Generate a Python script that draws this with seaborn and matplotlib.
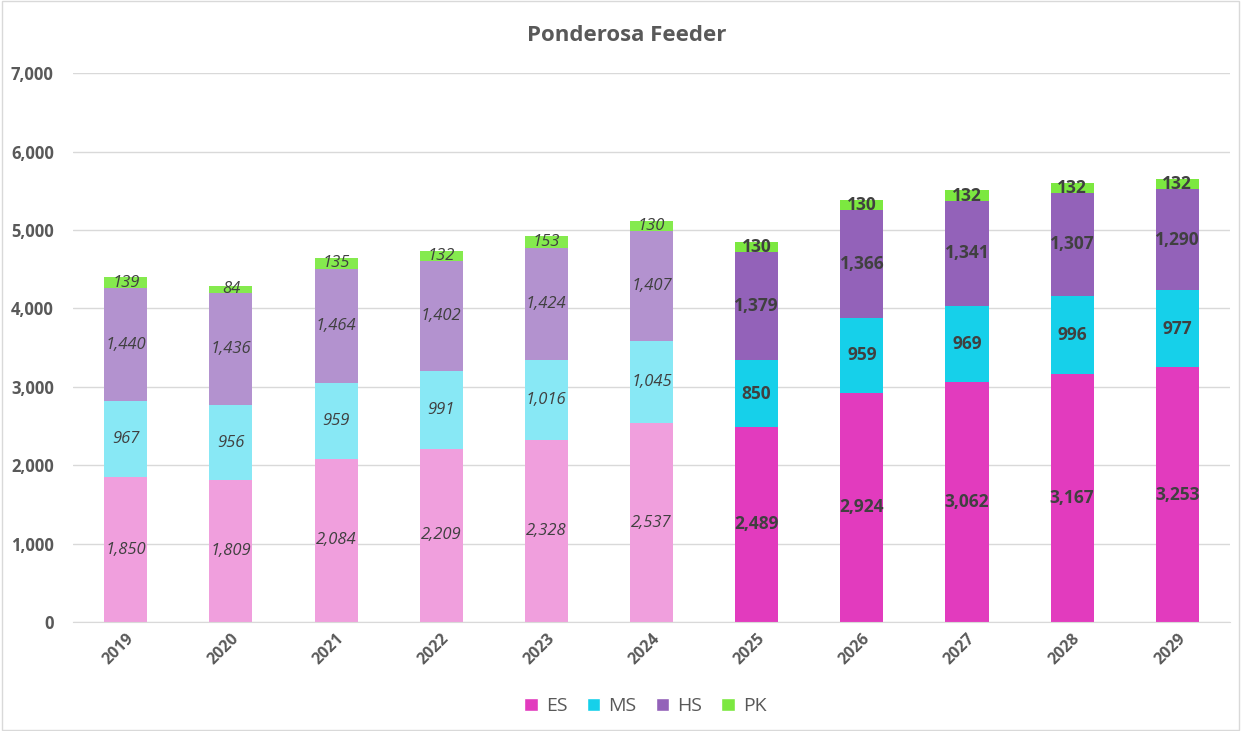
import numpy as np
import pandas as pd
import matplotlib.pyplot as plt
import matplotlib.colors as mcolors
from matplotlib.patches import Rectangle, Patch
from matplotlib.ticker import FuncFormatter
import seaborn as sns

# Datos
years = ['2019', '2020', '2021', '2022', '2023', '2024', '2025', '2026', '2027', '2028', '2029']
es = [1850, 1809, 2084, 2209, 2328, 2537, 2489, 2924, 3062, 3167, 3253]
ms = [967, 956, 959, 991, 1016, 1045, 850, 959, 969, 996, 977]
hs = [1440, 1436, 1464, 1402, 1424, 1407, 1379, 1366, 1341, 1307, 1290]
pk = [139, 84, 135, 132, 153, 130, 130, 130, 132, 132, 132]
n_hist = 6  # años históricos (colores claros, etiquetas en cursiva)

series = ['ES', 'MS', 'HS', 'PK']
colores = {'ES': '#E23BBE', 'MS': '#16D0EA', 'HS': '#9362B9', 'PK': '#7CE840'}
claros = {'ES': '#F09FDD', 'MS': '#88E8F5', 'HS': '#B392CF', 'PK': '#85EA4E'}

df = pd.DataFrame({'year': years, 'ES': es, 'MS': ms, 'HS': hs, 'PK': pk})

sns.set_style('white')
plt.rcParams['font.family'] = ['Open Sans', 'DejaVu Sans']

fig = plt.figure(figsize=(12.41, 7.31), dpi=100)
ax = fig.add_axes([0.059, 0.149, 0.932, 0.751])

# Barras apiladas: se dibuja la suma acumulada de arriba hacia abajo
acum = df[series].cumsum(axis=1)
for s in reversed(series):
    pal = [claros[s] if i < n_hist else colores[s] for i in range(len(years))]
    sns.barplot(x=df['year'], y=acum[s], hue=df['year'], palette=pal,
                legend=False, width=0.41, saturation=1, linewidth=0,
                ax=ax, zorder=2)

# Etiquetas de los segmentos
for i in range(len(years)):
    base = 0
    for s in series:
        v = df[s][i]
        if i < n_hist:
            ax.text(i, base + v / 2, f'{v:,}', ha='center', va='center',
                    fontsize=12, style='italic', color='#404040', zorder=3)
        else:
            ax.text(i, base + v / 2, f'{v:,}', ha='center', va='center',
                    fontsize=12.5, fontweight='bold', color='#404040', zorder=3)
        base += v

ax.set_ylim(0, 7000)
ax.set_xlim(-0.5, len(years) - 0.5)
ax.set_yticks(range(0, 7001, 1000))
ax.yaxis.set_major_formatter(FuncFormatter(lambda v, p: f'{int(v):,}'))
ax.grid(axis='y', color='#D9D9D9', linewidth=1, zorder=0)
ax.set_axisbelow(True)
for sp in ['left', 'right', 'top']:
    ax.spines[sp].set_visible(False)
ax.spines['bottom'].set_color('#D9D9D9')
ax.set_xlabel('')
ax.set_ylabel('')
ax.tick_params(axis='y', length=0, pad=14, labelsize=12, labelcolor='#595959')
ax.tick_params(axis='x', length=0, pad=6, labelsize=11.5, labelcolor='#595959')
for lab in ax.get_yticklabels():
    lab.set_fontweight('bold')
for lab in ax.get_xticklabels():
    lab.set_rotation(45)
    lab.set_fontweight('bold')
    lab.set_ha('right')
    lab.set_rotation_mode('anchor')

fig.text(0.505, 0.952, 'Ponderosa Feeder', ha='center', va='center',
         fontsize=16, fontweight='bold', color='#595959')

handles = [Patch(facecolor=colores[s], label=s) for s in series]
fig.legend(handles=handles, loc='center', bbox_to_anchor=(0.52, 0.034), ncol=4,
           frameon=False, fontsize=14, handlelength=0.7, handleheight=0.7,
           handletextpad=0.4, columnspacing=1.0, labelcolor='#595959')

fig.patches.append(Rectangle((0.002, 0.002), 0.996, 0.996, transform=fig.transFigure,
                             fill=False, edgecolor='#D9D9D9', linewidth=1))

fig.savefig('out.png', dpi=100)
